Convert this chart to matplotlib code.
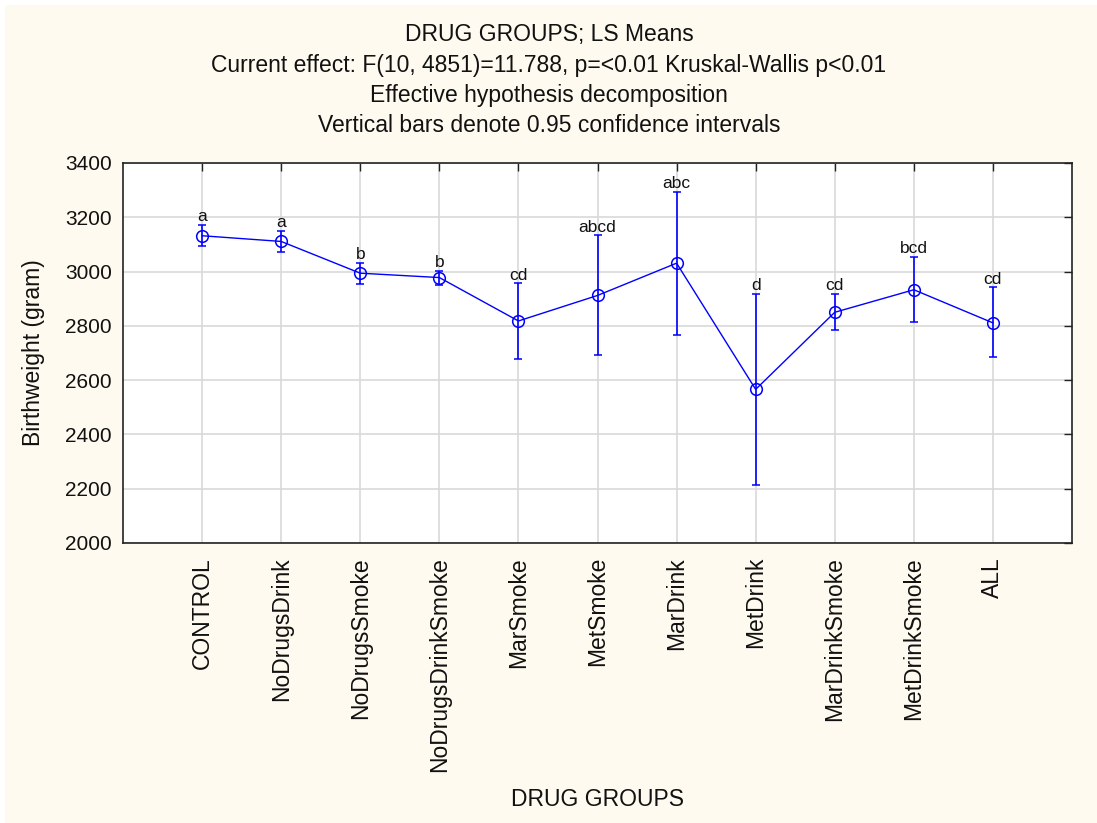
import matplotlib
matplotlib.use("Agg")
import matplotlib.pyplot as plt
from matplotlib.patches import Rectangle
import numpy as np

plt.rcParams['font.family'] = ['Liberation Sans', 'DejaVu Sans']

categories = ["CONTROL", "NoDrugsDrink", "NoDrugsSmoke", "NoDrugsDrinkSmoke",
              "MarSmoke", "MetSmoke", "MarDrink", "MetDrink",
              "MarDrinkSmoke", "MetDrinkSmoke", "ALL"]
means = [3132, 3111, 2994, 2978, 2818, 2912, 3031, 2566, 2850, 2933, 2811]
ci_low = [3093, 3073, 2956, 2952, 2677, 2694, 2768, 2214, 2785, 2814, 2684]
ci_high = [3172, 3150, 3032, 3003, 2957, 3134, 3294, 2918, 2918, 3054, 2942]
letters = ["a", "a", "b", "b", "cd", "abcd", "abc", "d", "cd", "bcd", "cd"]
yticks = [2000, 2200, 2400, 2600, 2800, 3000, 3200, 3400]

W, H = 1097, 823
fig = plt.figure(figsize=(W / 100, H / 100), dpi=100, facecolor='white')
cream = '#FEFAEF'
fig.patches.append(Rectangle((5 / W, 0), 1, 1 - 5 / H, transform=fig.transFigure,
                             facecolor=cream, edgecolor='none', zorder=-10))

ax = fig.add_axes([123 / W, 1 - 543 / H, (1072 - 123) / W, (543 - 163) / H])
ax.set_facecolor('white')

x = np.arange(len(categories))
m = np.array(means)
yerr = np.vstack([m - np.array(ci_low), np.array(ci_high) - m])
ax.errorbar(x, m, yerr=yerr, color='#0000FF', lw=1.0, marker='o', ms=8.4,
            mfc='none', mec='#0000FF', mew=1.1, elinewidth=1.2, capsize=3.2,
            capthick=1.2, zorder=3)

for xi, top, lab in zip(x, ci_high, letters):
    ax.annotate(lab, (xi, top), xytext=(0, 2.5), textcoords='offset points',
                ha='center', va='baseline', fontsize=12.5, color='#111111')

ax.set_xlim(-1, 11)
ax.set_ylim(2000, 3400)
ax.set_yticks(yticks)
ax.set_xticks(x)
ax.set_xticklabels(categories, rotation=90, va='top', ha='center', fontsize=16.5)
ax.grid(True, color='#d9d9d9', lw=1.2, zorder=0)
ax.set_axisbelow(True)
ax.tick_params(axis='both', direction='in', length=6, width=1.0, color='#222222',
               left=False, bottom=False, top=True, right=True,
               labelcolor='#111111')
ax.tick_params(axis='y', pad=8, labelsize=15)
ax.tick_params(axis='x', pad=10)
for s in ax.spines.values():
    s.set_color('#222222')
    s.set_linewidth(1.2)

ax.set_ylabel("Birthweight (gram)", fontsize=16.5, color='#111111')
ax.yaxis.set_label_coords((34 - 123) / (1072 - 123), 0.5)
ax.yaxis.label.set_va('center')

fig.text(597.5 / W, 1 - 800 / H, "DRUG GROUPS", ha='center', va='center',
         fontsize=16.5, color='#111111')

titles = ["DRUG GROUPS; LS Means",
          "Current effect: F(10, 4851)=11.788, p=<0.01 Kruskal-Wallis p<0.01",
          "Effective hypothesis decomposition",
          "Vertical bars denote 0.95 confidence intervals"]
for i, t in enumerate(titles):
    fig.text(549 / W, 1 - (35 + 30.3 * i) / H, t, ha='center', va='center',
             fontsize=16.5, color='#111111')

fig.savefig("out.png", dpi=100, facecolor=fig.get_facecolor())
